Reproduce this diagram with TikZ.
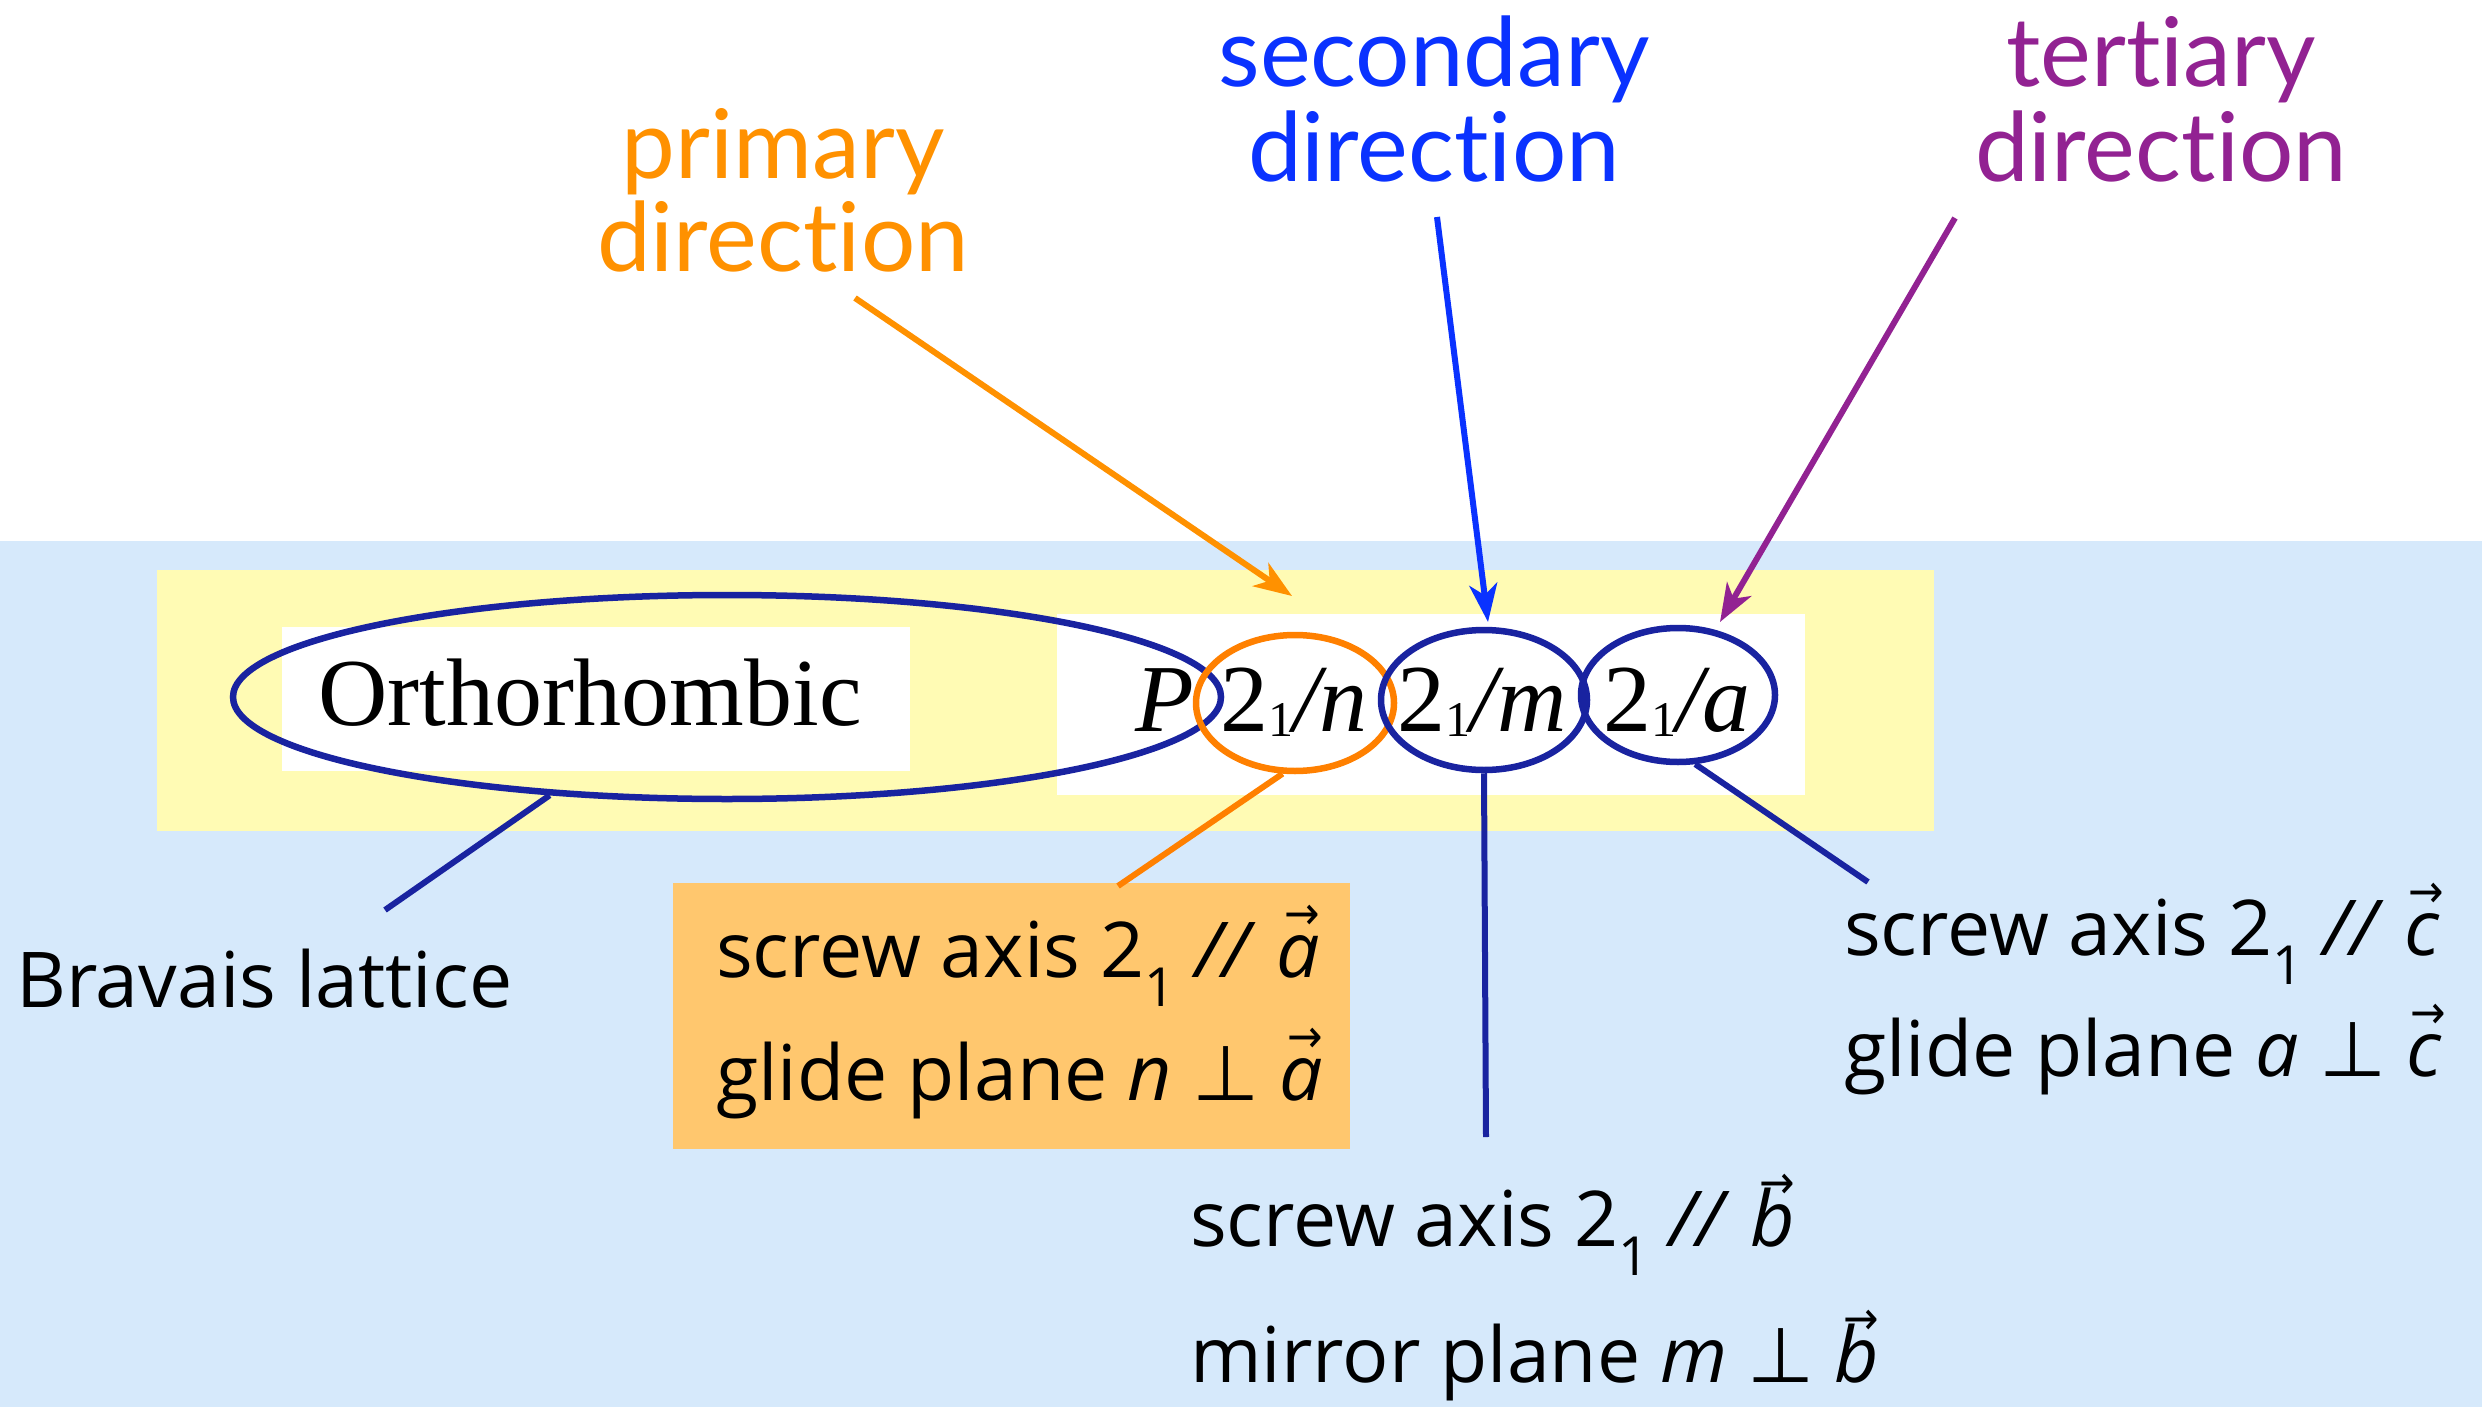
\documentclass[tikz,border=0pt]{standalone}
\usepackage{fontspec}
\setmainfont{Liberation Serif}
\newfontfamily\headfont[Ligatures=NoCommon]{Lato}
\newfontfamily\cfont{Open Sans}
\newfontfamily\symfont{DejaVu Sans}
\usetikzlibrary{arrows.meta,shapes.geometric}
\definecolor{bgblue}{RGB}{214,233,251}
\definecolor{yel}{RGB}{255,251,180}
\definecolor{obox}{RGB}{255,199,110}
\definecolor{navy}{RGB}{25,35,160}
\definecolor{oline}{RGB}{255,128,0}
\definecolor{ohead}{RGB}{255,145,0}
\definecolor{bhead}{RGB}{10,50,255}
\definecolor{phead}{RGB}{146,34,146}
\newcommand\va[1]{\ooalign{\textit{#1}\cr\hidewidth\kern0.12em\raisebox{0.62em}{\scalebox{0.55}[0.6]{\symfont →}}\hidewidth\cr}}
\newcommand\pp{{\symfont ⊥}}
\newcommand\sgsub{2\raisebox{-0.06em}{\fontsize{50}{50}\selectfont 1}}
\begin{document}
\begin{tikzpicture}[x=1pt,y=-1pt,
  lbl/.style={inner sep=0, anchor=base west, font=\cfont\fontsize{77}{77}\selectfont},
  head/.style={inner sep=0, anchor=base, font=\headfont\fontsize{96}{96}\selectfont},
  sg/.style={inner sep=0, anchor=base, font=\fontsize{96}{96}\selectfont},
  ell/.style={ellipse, inner sep=0, line width=6.5pt},
  conn/.style={line width=6pt},
  tip/.style={-{Stealth[length=38pt,width=28pt,inset=11pt]}}]
\useasboundingbox (0,0) rectangle (2482,1407);
\fill[white] (0,0) rectangle (2482,1407);
\fill[bgblue] (0,541) rectangle (2482,1407);
\fill[yel] (157,570) rectangle (1934,831);
\fill[white] (282,627) rectangle (910,771);
\fill[white] (1057,614) rectangle (1805,795);
\fill[obox] (673,883) rectangle (1350,1149);

% space group symbols
\node[sg] (ortho) at (590,725) {Orthorhombic};
\node[sg] (sgP) at (1165,731) {\textit{P}};
\node[sg] (sgn) at (1294,731) {\sgsub\textit{/n}};
\node[sg] (sgm) at (1482,731) {\sgsub\textit{/m}};
\node[sg] (sga) at (1677,731) {\sgsub\textit{/a}};

% ellipses
\node[ell, draw=navy, minimum width=988pt, minimum height=204pt] (bigell) at (727,697) {};
\node[ell, draw=oline, minimum width=198pt, minimum height=136pt] (elln) at (1295,703) {};
\node[ell, draw=navy, minimum width=206pt, minimum height=140pt] (ellm) at (1484,700) {};
\node[ell, draw=navy, minimum width=194pt, minimum height=134pt] (ella) at (1678,695) {};

% headings
\node[head, text=ohead] (prim1) at (783,179) {primary};
\node[head, text=ohead] (prim2) at (783,272) {direction};
\node[head, text=bhead] (sec1) at (1434,87) {secondary};
\node[head, text=bhead] (sec2) at (1434,182) {direction};
\node[head, text=phead] (ter1) at (2161,87) {tertiary};
\node[head, text=phead] (ter2) at (2161,182) {direction};

% arrows from headings
\coordinate (oa1) at (855,298);
\coordinate (oa2) at (1292,596);
\coordinate (ba1) at (1437,217);
\coordinate (ba2) at (1488,622);
\coordinate (pa1) at (1955,218);
\coordinate (pa2) at (1720,622);
\draw[conn, ohead, tip] (oa1) -- (oa2);
\draw[conn, bhead, tip] (ba1) -- (ba2);
\draw[conn, phead, tip] (pa1) -- (pa2);

% labels
\node[lbl] (brav) at (16,1007) {Bravais lattice};
\node[lbl] (na1) at (716,977) {screw axis 2\textsubscript{1} \textit{//} \va{a}};
\node[lbl] (na2) at (716,1100) {glide plane \textit{n} \pp{} \va{a}};
\node[lbl] (mb1) at (1190,1246) {screw axis 2\textsubscript{1} \textit{//} \va{b}};
\node[lbl] (mb2) at (1190,1382) {mirror plane \textit{m} \pp{} \va{b}};
\node[lbl] (ac1) at (1844,955) {screw axis 2\textsubscript{1} \textit{//} \va{c}};
\node[lbl] (ac2) at (1844,1076) {glide plane \textit{a} \pp{} \va{c}};

% lower connectors
\coordinate (bravtop) at (385,910);
\coordinate (boxtop) at (1118,886);
\coordinate (mbtop) at (1486,1137);
\coordinate (actop) at (1868,882);
\draw[conn, navy] (bigell.209) -- (bravtop);
\draw[conn, oline] (elln.260) -- (boxtop);
\draw[conn, navy] (ellm.south) -- (mbtop);
\draw[conn, navy] (ella.284) -- (actop);
\end{tikzpicture}
\end{document}
